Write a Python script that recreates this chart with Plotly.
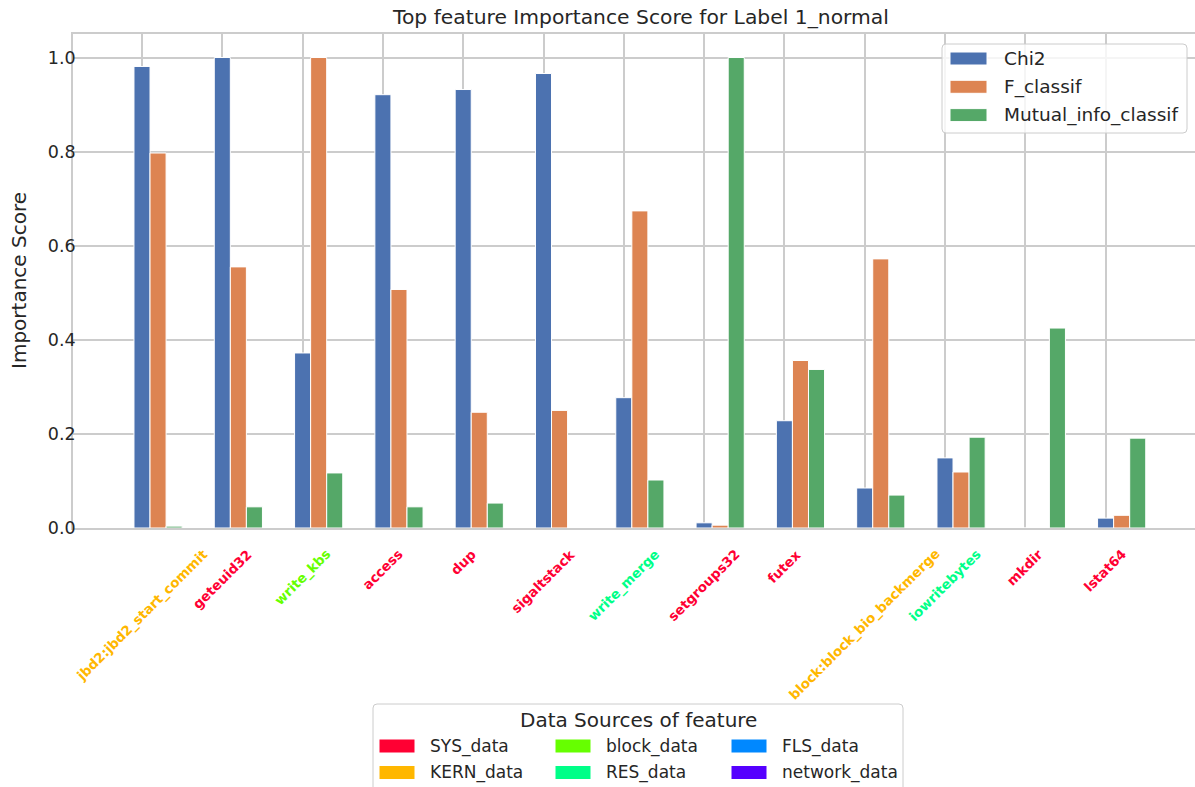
import numpy as np
import plotly.graph_objects as go

# Feature scores per selection method (normalised to the best feature)
features = ["jbd2:jbd2_start_commit", "geteuid32", "write_kbs", "access", "dup",
            "sigaltstack", "write_merge", "setgroups32", "futex",
            "block:block_bio_backmerge", "iowritebytes", "mkdir", "lstat64"]
feature_sources = ["KERN_data", "SYS_data", "block_data", "SYS_data", "SYS_data",
                   "SYS_data", "RES_data", "SYS_data", "SYS_data",
                   "KERN_data", "RES_data", "SYS_data", "SYS_data"]
chi2_scores = [0.981, 1.000, 0.372, 0.921, 0.932, 0.966, 0.277, 0.011, 0.228,
               0.085, 0.149, 0.0, 0.021]
f_classif_scores = [0.797, 0.555, 1.000, 0.507, 0.246, 0.250, 0.674, 0.006, 0.356,
                    0.572, 0.119, 0.0, 0.027]
mutual_info_scores = [0.004, 0.045, 0.117, 0.045, 0.053, 0.0, 0.102, 1.000, 0.337,
                      0.070, 0.193, 0.425, 0.191]
y_ticks = [0.0, 0.2, 0.4, 0.6, 0.8, 1.0]

methods = ["Chi2", "F_classif", "Mutual_info_classif"]
method_colors = ["#4C72B0", "#DD8452", "#55A868"]

source_names = ["SYS_data", "KERN_data", "block_data", "RES_data", "FLS_data", "network_data"]
source_colors = {"SYS_data": "#FF0033", "KERN_data": "#FFB700", "block_data": "#66FF00",
                 "RES_data": "#00FF88", "FLS_data": "#0088FF", "network_data": "#5500FF"}

FONT = "DejaVu Sans"
TXT = "#262626"
GRID = "#cccccc"

W, H = 1195, 787
L, R, T, B = 73, 0, 34, 259
PW, PH = W - L - R, H - T - B


def px(x):
    return (x - L) / PW


def py(y):
    return (H - B - y) / PH


bar_w = 0.2
idx = np.arange(len(features))
fig = go.Figure()
for k, (name, vals, col) in enumerate(zip(methods, [chi2_scores, f_classif_scores, mutual_info_scores], method_colors)):
    fig.add_trace(go.Bar(x=idx + k * bar_w, y=vals, width=bar_w, name=name,
                         marker=dict(color=col, line=dict(color="white", width=1)),
                         showlegend=False))

# coloured, rotated category labels
annotations = []
for i, (feat, src) in enumerate(zip(features, feature_sources)):
    annotations.append(dict(x=i, xref="x", y=py(544), yref="paper", text=f"<b>{feat}</b>",
                            showarrow=False, textangle=-45, xanchor="center", yanchor="top",
                            font=dict(family=FONT, size=13.4, color=source_colors[src])))

annotations.append(dict(x=px(640), xref="paper", y=py(17), yref="paper",
                        text="Top feature Importance Score for Label 1_normal", showarrow=False,
                        xanchor="center", yanchor="middle", font=dict(family=FONT, size=20.3, color=TXT)))
annotations.append(dict(x=px(19), xref="paper", y=py(281), yref="paper", text="Importance Score",
                        showarrow=False, textangle=-90, xanchor="center", yanchor="middle",
                        font=dict(family=FONT, size=20, color=TXT)))


def rounded_box(x0, y0, x1, y1, r=4):
    # rounded rectangle path in paper coordinates from pixel corners
    X = lambda v: px(v)
    Y = lambda v: py(v)
    return (f"M {X(x0 + r)},{Y(y0)} L {X(x1 - r)},{Y(y0)} Q {X(x1)},{Y(y0)} {X(x1)},{Y(y0 + r)} "
            f"L {X(x1)},{Y(y1 - r)} Q {X(x1)},{Y(y1)} {X(x1 - r)},{Y(y1)} "
            f"L {X(x0 + r)},{Y(y1)} Q {X(x0)},{Y(y1)} {X(x0)},{Y(y1 - r)} "
            f"L {X(x0)},{Y(y0 + r)} Q {X(x0)},{Y(y0)} {X(x0 + r)},{Y(y0)} Z")


shapes = []
# method legend (upper right)
shapes.append(dict(type="path", xref="paper", yref="paper", path=rounded_box(942, 44, 1187, 133),
                   fillcolor="rgba(255,255,255,0.8)", line=dict(color=GRID, width=1), layer="above"))
for k, (name, col) in enumerate(zip(methods, method_colors)):
    yc = 58.5 + k * 28.3
    shapes.append(dict(type="rect", xref="paper", yref="paper", x0=px(950), x1=px(987),
                       y0=py(yc - 6.5), y1=py(yc + 6.5), fillcolor=col,
                       line=dict(color="white", width=1), layer="above"))
    annotations.append(dict(x=px(1002), xref="paper", y=py(yc), yref="paper", text=name,
                            showarrow=False, xanchor="left", yanchor="middle",
                            font=dict(family=FONT, size=18.5, color=TXT)))

# data-source legend (below the axes)
shapes.append(dict(type="path", xref="paper", yref="paper", path=rounded_box(373, 704, 903, 800),
                   fillcolor="rgba(255,255,255,0.8)", line=dict(color=GRID, width=1), layer="above"))
annotations.append(dict(x=px(638), xref="paper", y=py(720), yref="paper", text="Data Sources of feature",
                        showarrow=False, xanchor="center", yanchor="middle",
                        font=dict(family=FONT, size=20, color=TXT)))
col_x = [379, 555, 731]
row_y = [746, 772.5]
for j, src in enumerate(source_names):
    c, r = j // 2, j % 2
    x0, yc = col_x[c], row_y[r]
    shapes.append(dict(type="rect", xref="paper", yref="paper", x0=px(x0), x1=px(x0 + 36),
                       y0=py(yc - 7), y1=py(yc + 7), fillcolor=source_colors[src],
                       line=dict(color="white", width=1), layer="above"))
    annotations.append(dict(x=px(x0 + 49), xref="paper", y=py(yc), yref="paper", text=src,
                            showarrow=False, xanchor="left", yanchor="middle",
                            font=dict(family=FONT, size=17, color=TXT)))

x_left = (L - 142) / 80.3
x_right = x_left + PW / 80.3

fig.update_layout(
    width=W, height=H,
    margin=dict(l=L, r=R, t=T, b=B, pad=0),
    plot_bgcolor="white", paper_bgcolor="white",
    barmode="overlay",
    font=dict(family=FONT, color=TXT),
    xaxis=dict(range=[x_left, x_right], tickvals=list(idx), showticklabels=False,
               showgrid=True, gridcolor=GRID, gridwidth=1.6, zeroline=False,
               showline=True, mirror=True, linecolor=GRID, linewidth=1.6, ticks="", ticklen=0),
    yaxis=dict(range=[0, 1.05], tickvals=y_ticks, ticktext=[f"{v:.1f}" for v in y_ticks],
               showgrid=True, gridcolor=GRID, gridwidth=1.6, zeroline=False,
               showline=True, linecolor=GRID, linewidth=1.6, ticks="", ticklen=0,
               ticklabelstandoff=-8,
               tickfont=dict(family=FONT, size=17.5, color=TXT)),
    annotations=annotations,
    shapes=shapes,
)

fig.write_html("out.html")
